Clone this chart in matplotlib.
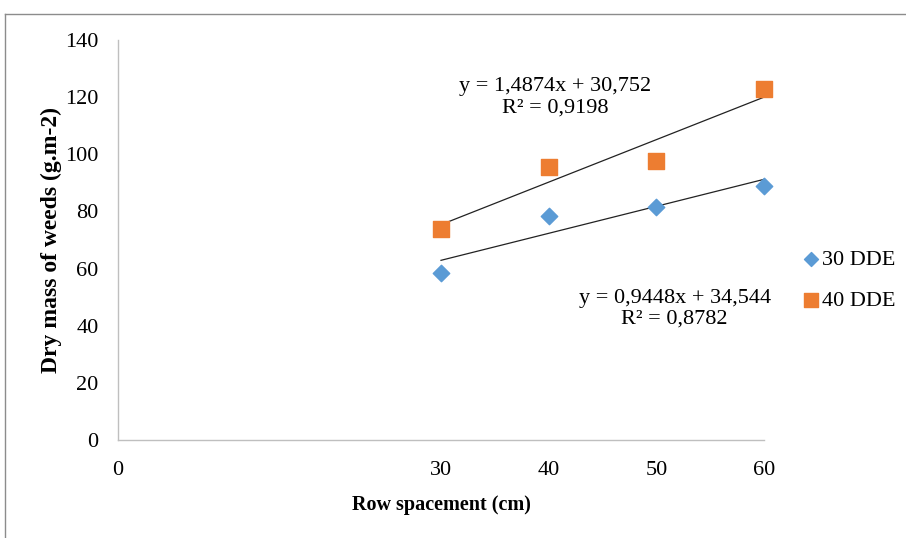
import numpy as np
import matplotlib.pyplot as plt
from matplotlib.lines import Line2D

plt.rcParams['font.family'] = ['Liberation Serif', 'DejaVu Serif']

# Data
row_spacing = [30, 40, 50, 60]
dde30 = [58.5, 78.5, 81.5, 89.0]
dde40 = [74.0, 95.5, 97.5, 123.0]

# Trendline coefficients shown on the chart
fit30 = (0.9448, 34.544)
fit40 = (1.4874, 30.752)
eq30 = "y = 0,9448x + 34,544\nR² = 0,8782"
eq40 = "y = 1,4874x + 30,752\nR² = 0,9198"

x_ticks = [0, 30, 40, 50, 60]
y_ticks = [0, 20, 40, 60, 80, 100, 120, 140]

blue = '#5B9BD5'
orange = '#ED7D31'

fig = plt.figure(figsize=(9.06, 5.38), dpi=100)
ax = fig.add_axes([118 / 906, 1 - 440 / 538, (764 - 118) / 906, 400 / 538])

ax.scatter(row_spacing, dde30, marker='D', s=70, color=blue, label='30 DDE',
           zorder=3, clip_on=False)
ax.scatter(row_spacing, dde40, marker='s', s=130, color=orange, label='40 DDE',
           zorder=3, clip_on=False)

# trendlines
xs = np.array([row_spacing[0], row_spacing[-1]])
ax.plot(xs, fit30[0] * xs + fit30[1], color='#222222', lw=0.9, zorder=2)
ax.plot(xs, fit40[0] * xs + fit40[1], color='#222222', lw=0.9, zorder=2)

ax.text(40.6, 119.9, eq40, ha='center', va='center', fontsize=16, linespacing=1.15)
ax.text(51.7, 45.9, eq30, ha='center', va='center', fontsize=16, linespacing=1.15)

ax.set_xlim(0, 60)
ax.set_ylim(0, 140)
ax.set_xticks(x_ticks)
ax.set_yticks(y_ticks)
ax.tick_params(length=0, labelsize=16)
ax.tick_params(axis='x', pad=15)
ax.tick_params(axis='y', pad=14)

for side in ['top', 'right']:
    ax.spines[side].set_visible(False)
for side in ['left', 'bottom']:
    ax.spines[side].set_color('#BFBFBF')
    ax.spines[side].set_linewidth(1.0)

ax.set_xlabel('Row spacement (cm)', fontsize=14.5, fontweight='bold', labelpad=11)
ax.set_ylabel('Dry mass of weeds (g.m-2)', fontsize=17, fontweight='bold', labelpad=2)

ax.legend(loc='center left', bbox_to_anchor=(1.0, 0.4), frameon=False,
          fontsize=16, handletextpad=0.1, labelspacing=0.9, borderaxespad=1.3,
          handlelength=0.8, markerscale=0.85)

# outer frame of the chart area
fig.add_artist(Line2D([5 / 906, 1.0], [1 - 14 / 538, 1 - 14 / 538],
                      transform=fig.transFigure, color='#8C8C8C', lw=1.0))
fig.add_artist(Line2D([5 / 906, 5 / 906], [0.0, 1 - 14 / 538],
                      transform=fig.transFigure, color='#8C8C8C', lw=1.0))

fig.savefig('out.png', dpi=100)
